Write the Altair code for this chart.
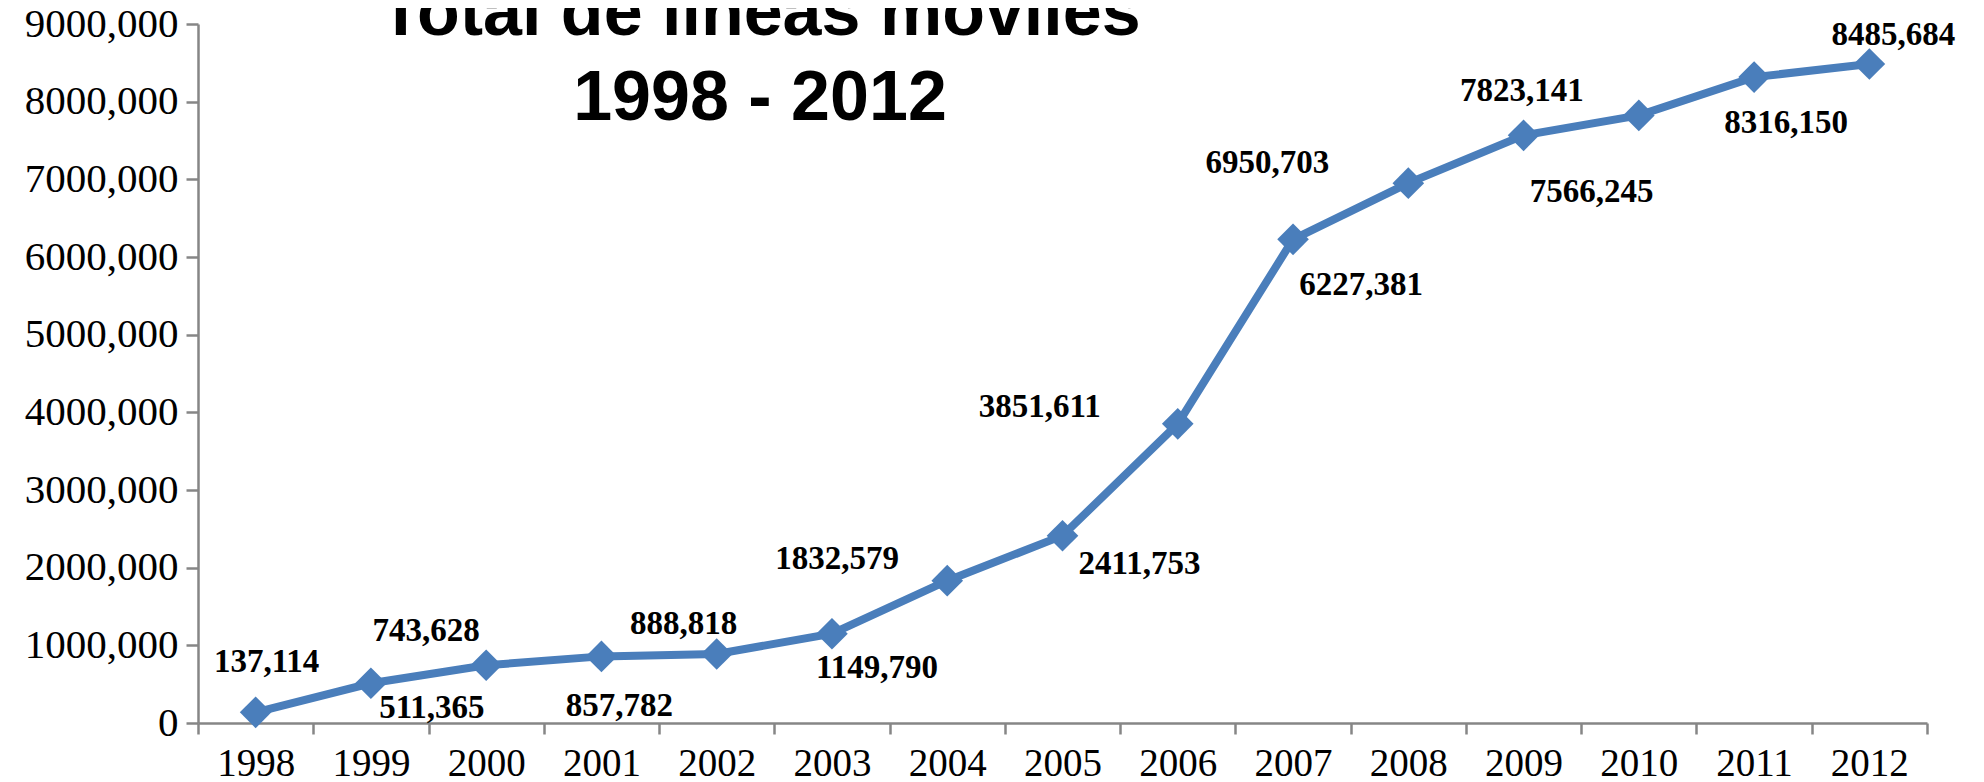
import altair as alt
import pandas as pd

years = [str(y) for y in range(1998, 2013)]
values = [137114, 511365, 743628, 857782, 888818, 1149790, 1832579, 2411753,
          3851611, 6227381, 6950703, 7566245, 7823141, 8316150, 8485684]
# label placement offsets (pixels) relative to each point
label_dx = [11, 61, -60, 18, -33, 45, -110, 77, -138, 68, -141, 68, -117, 32, 24]
label_dy = [-50, 25, -34, 50, -30, 34, -22, 28, -17, 46, -20, 57, -24, 46, -29]
title_lines = "Total de líneas móviles\n1998 - 2012"

labels = [f"{v // 1000},{v % 1000:03d}" for v in values]
df = pd.DataFrame({"year": years, "value": values, "label": labels})

BLUE = "#4A7EBB"
GRAY = "#868686"
SERIF = "Liberation Serif"

x_enc = alt.X("year:O", scale=alt.Scale(type="band", paddingInner=0, paddingOuter=0),
              axis=alt.Axis(title=None, tickBand="extent", labelAngle=0,
                            labelFont=SERIF, labelFontSize=39, labelColor="black",
                            labelPadding=10, tickSize=11, tickColor=GRAY,
                            tickWidth=2.5, domainColor=GRAY, domainWidth=2.5,
                            grid=False))
y_enc = alt.Y("value:Q", scale=alt.Scale(domain=[0, 9000000], nice=False, zero=True),
              axis=alt.Axis(title=None, values=list(range(0, 9000001, 1000000)),
                            labelExpr="datum.value == 0 ? '0' : floor(datum.value/1000) + ',000'",
                            labelFont=SERIF, labelFontSize=41, labelColor="black",
                            labelPadding=8, tickSize=12, tickColor=GRAY,
                            tickWidth=2.5, domainColor=GRAY, domainWidth=2.5,
                            grid=False))

base = alt.Chart(df)
line = base.mark_line(color=BLUE, strokeWidth=8).encode(x=x_enc, y=y_enc)
pts = base.mark_point(shape="diamond", filled=True, size=1000, color=BLUE, opacity=1).encode(
    x=x_enc, y=y_enc)

text_layers = []
for yr, ddx, ddy in zip(years, label_dx, label_dy):
    text_layers.append(
        base.transform_filter(alt.datum.year == yr).mark_text(
            font=SERIF, fontSize=33, fontWeight="bold", color="black",
            baseline="middle", align="center", dx=ddx, dy=ddy).encode(
            x=x_enc, y=y_enc, text="label:N"))

title = alt.Chart(pd.DataFrame({"t": [title_lines]})).mark_text(
    font="Liberation Sans", fontSize=70, fontWeight="bold",
    color="black", align="center", baseline="alphabetic", lineBreak="\n",
    lineHeight=85).encode(text="t:N", x=alt.value(562), y=alt.value(11))

chart = alt.layer(line, pts, *text_layers, title).properties(
    width=1729, height=699,
    autosize=alt.AutoSizeParams(type="none"),
    padding={"left": 190, "top": 16, "right": 40, "bottom": 58},
).configure(background="white").configure_view(stroke=None)

chart.save("out.html", embed_options={"renderer": "svg", "actions": False})
